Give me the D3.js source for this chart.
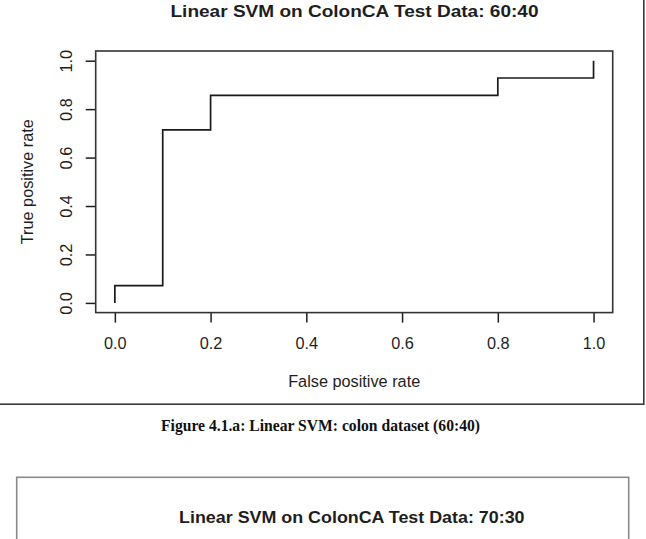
<!DOCTYPE html>
<html>
<head>
<meta charset="utf-8">
<script src="https://cdn.jsdelivr.net/npm/d3@7"></script>
<style>
  html, body { margin: 0; padding: 0; background: #fff; }
  svg { display: block; }
</style>
</head>
<body>
<svg id="chart" width="646" height="539"></svg>
<script>
// ---- data ----
const title = "Linear SVM on ColonCA Test Data: 60:40";
const title2 = "Linear SVM on ColonCA Test Data: 70:30";
const caption = "Figure 4.1.a: Linear SVM: colon dataset (60:40)";
const xLabel = "False positive rate";
const yLabel = "True positive rate";
const fpr = [0, 0, 0.1, 0.1, 0.2, 0.2, 0.8, 0.8, 1.0, 1.0];
const tpr = [0, 0.0714, 0.0714, 0.7143, 0.7143, 0.8571, 0.8571, 0.9286, 0.9286, 1.0];
const xTicks = [0, 0.2, 0.4, 0.6, 0.8, 1.0];
const yTicks = [0, 0.2, 0.4, 0.6, 0.8, 1.0];

const svg = d3.select("#chart");
const font = "'Liberation Sans', Arial, Helvetica, sans-serif";
const ink = "#1e1e1e";

const box = { left: 95.7, right: 612.7, top: 51, bottom: 312.6 };
const x = d3.scaleLinear().domain([-0.04, 1.04]).range([box.left, box.right]);
const y = d3.scaleLinear().domain([-0.04, 1.04]).range([box.bottom, box.top]);

// outer frame of the first figure (top/left off-page)
svg.append("rect")
  .attr("x", -5).attr("y", -5)
  .attr("width", 643.8 + 5).attr("height", 404.2 + 5)
  .attr("fill", "none").attr("stroke", "#3a3a3a").attr("stroke-width", 1.6);

// title
svg.append("text")
  .attr("x", 354.5).attr("y", 17.3)
  .attr("text-anchor", "middle")
  .attr("font-family", font).attr("font-weight", "bold").attr("font-size", 17.4)
  .attr("fill", ink)
  .attr("textLength", 368).attr("lengthAdjust", "spacingAndGlyphs")
  .text(title);

// x axis
const gx = svg.append("g")
  .attr("transform", `translate(0,${box.bottom})`)
  .call(d3.axisBottom(x).tickValues(xTicks).tickSize(10).tickFormat(d3.format(".1f")));
gx.select(".domain").remove();
gx.selectAll(".tick line").attr("stroke", ink).attr("stroke-width", 1.5);
gx.selectAll(".tick text")
  .attr("y", 349 - box.bottom).attr("dy", null)
  .attr("font-family", font).attr("font-size", 16.3).attr("fill", ink);

// y axis
const gy = svg.append("g")
  .attr("transform", `translate(${box.left},0)`)
  .call(d3.axisLeft(y).tickValues(yTicks).tickSize(10).tickFormat(d3.format(".1f")));
gy.select(".domain").remove();
gy.selectAll(".tick line").attr("stroke", ink).attr("stroke-width", 1.5);
gy.selectAll(".tick text")
  .attr("transform", "rotate(-90)")
  .attr("x", 0).attr("y", 71.7 - box.left).attr("dy", null)
  .attr("text-anchor", "middle")
  .attr("font-family", font).attr("font-size", 16.3).attr("fill", ink);

// plot box
svg.append("rect")
  .attr("x", box.left).attr("y", box.top)
  .attr("width", box.right - box.left).attr("height", box.bottom - box.top)
  .attr("fill", "none").attr("stroke", "#333").attr("stroke-width", 1.6);

// ROC curve
const pts = fpr.map((f, i) => [f, tpr[i]]);
svg.append("path")
  .datum(pts)
  .attr("d", d3.line().x(d => x(d[0])).y(d => y(d[1])))
  .attr("fill", "none").attr("stroke", "#1a1a1a").attr("stroke-width", 1.7);

// axis labels
svg.append("text")
  .attr("x", 354.2).attr("y", 387.3)
  .attr("text-anchor", "middle")
  .attr("font-family", font).attr("font-size", 16.3).attr("fill", ink)
  .text(xLabel);
svg.append("text")
  .attr("transform", "translate(32.5,181.7) rotate(-90)")
  .attr("text-anchor", "middle")
  .attr("font-family", font).attr("font-size", 16.3).attr("fill", ink)
  .text(yLabel);

// caption
svg.append("text")
  .attr("x", 320.5).attr("y", 431)
  .attr("text-anchor", "middle")
  .attr("font-family", "'Liberation Serif', 'DejaVu Serif', serif")
  .attr("font-weight", "bold").attr("font-size", 16.5)
  .attr("fill", "#111")
  .attr("textLength", 319).attr("lengthAdjust", "spacingAndGlyphs")
  .text(caption);

// second figure frame (continues below the page)
svg.append("rect")
  .attr("x", 16.7).attr("y", 477.3)
  .attr("width", 628.7 - 16.7).attr("height", 200)
  .attr("fill", "none").attr("stroke", "#8a8a8a").attr("stroke-width", 1.6);

svg.append("text")
  .attr("x", 351.8).attr("y", 523.3)
  .attr("text-anchor", "middle")
  .attr("font-family", font).attr("font-weight", "bold").attr("font-size", 16.4)
  .attr("fill", ink)
  .attr("textLength", 345.5).attr("lengthAdjust", "spacingAndGlyphs")
  .text(title2);
</script>
</body>
</html>
